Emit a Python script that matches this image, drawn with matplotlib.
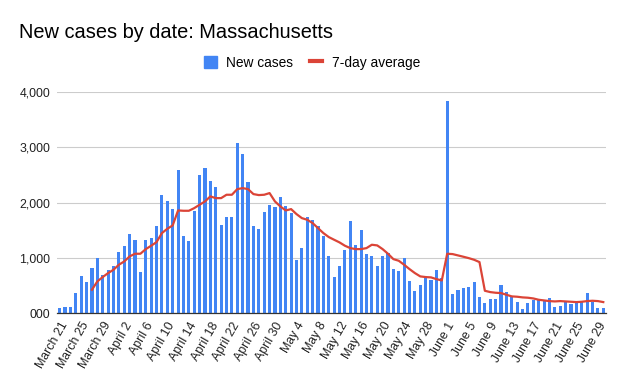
import matplotlib
matplotlib.use("Agg")
import matplotlib.pyplot as plt
import pandas as pd
from matplotlib.lines import Line2D
from matplotlib.patches import Patch

dates = pd.date_range("2020-03-21", "2020-06-30", freq="D")

new_cases = [
    90, 110, 110, 362, 664, 561, 808, 989, 688, 772,
    845, 1104, 1207, 1424, 1315, 742, 1315, 1351, 1575, 2130,
    2021, 1882, 2594, 1394, 1297, 1840, 2504, 2618, 2389, 2281,
    1593, 1738, 1738, 3077, 2872, 2365, 1575, 1520, 1828, 1955,
    1925, 2100, 1931, 1804, 965, 1170, 1738, 1677, 1581, 1394,
    1026, 652, 845, 1146, 1659, 1237, 1496, 1074, 1026, 845,
    1026, 1086, 796, 754, 995, 573, 392, 501, 646, 603,
    772, 633, 3831, 344, 410, 452, 471, 561, 284, 181,
    253, 253, 507, 374, 314, 199, 72, 181, 241, 241,
    223, 271, 115, 127, 205, 163, 205, 193, 362, 193,
    90, 90,
]

# 7-day average (starts on the 7th day)
avg_7day = [
    422, 573, 652, 724, 784, 875, 935, 1026, 1074, 1074,
    1158, 1219, 1285, 1448, 1526, 1587, 1858, 1852, 1852, 1900,
    1961, 2021, 2112, 2081, 2081, 2142, 2142, 2244, 2262, 2244,
    2154, 2136, 2142, 2172, 2021, 1931, 1858, 1882, 1792, 1719,
    1689, 1629, 1538, 1448, 1376, 1327, 1279, 1219, 1176, 1158,
    1158, 1176, 1237, 1225, 1158, 1074, 977, 947, 875, 796,
    724, 664, 652, 646, 615, 591, 1074, 1068, 1044, 1020,
    995, 965, 923, 404, 380, 368, 362, 332, 302, 296,
    284, 278, 265, 241, 229, 217, 211, 217, 211, 205,
    199, 205, 217, 223, 217, 199,
]

tick_labels = [
    "March 21", "March 25", "March 29", "April 2", "April 6", "April 10",
    "April 14", "April 18", "April 22", "April 26", "April 30", "May 4",
    "May 8", "May 12", "May 16", "May 20", "May 24", "May 28", "June 1",
    "June 5", "June 9", "June 13", "June 17", "June 21", "June 25", "June 29",
]
y_ticks = [0, 1000, 2000, 3000, 4000]
y_tick_labels = ["000", "1,000", "2,000", "3,000", "4,000"]

plt.rcParams["font.family"] = ["Liberation Sans", "DejaVu Sans"]

fig = plt.figure(figsize=(6.26, 3.87), dpi=100)
ax = fig.add_axes([0.091, 0.191, 0.877, 0.571])

x = list(range(len(new_cases)))
ax.bar(x, new_cases, width=0.58, color="#4285F4", zorder=2)
x_avg = list(range(6, 6 + len(avg_7day)))
ax.plot(x_avg, avg_7day, color="#DB4437", lw=1.6, zorder=3)

ax.set_xlim(-0.5, len(new_cases) - 0.5)
ax.set_ylim(0, 4000)
ax.set_yticks(y_ticks)
ax.set_yticklabels(y_tick_labels, fontsize=8.9, color="#222222")
ax.set_xticks(list(range(0, len(new_cases), 4)))
ax.set_xticklabels(tick_labels, rotation=60, ha="right", rotation_mode="anchor",
                   fontsize=8.9, color="#222222")
ax.tick_params(axis="y", length=0, pad=5)
ax.tick_params(axis="x", length=0, pad=5)
ax.grid(axis="y", color="#cccccc", lw=0.8, zorder=0)
for s in ["top", "right", "left"]:
    ax.spines[s].set_visible(False)
ax.spines["bottom"].set_color("#333333")
ax.spines["bottom"].set_linewidth(0.9)
ax.spines["bottom"].set_zorder(4)

fig.text(0.031, 0.915, "New cases by date: Massachusetts", fontsize=14.4,
         color="#000000", ha="left", va="center")

handles = [Patch(color="#4285F4"), Line2D([0], [0], color="#DB4437", lw=3)]
fig.legend(handles, ["New cases", "7-day average"], loc="center",
           bbox_to_anchor=(0.499, 0.838), ncol=2, frameon=False, fontsize=9.9,
           handlelength=0.9, handleheight=0.9, columnspacing=1.2, handletextpad=0.7)

fig.savefig("out.png", dpi=100)
